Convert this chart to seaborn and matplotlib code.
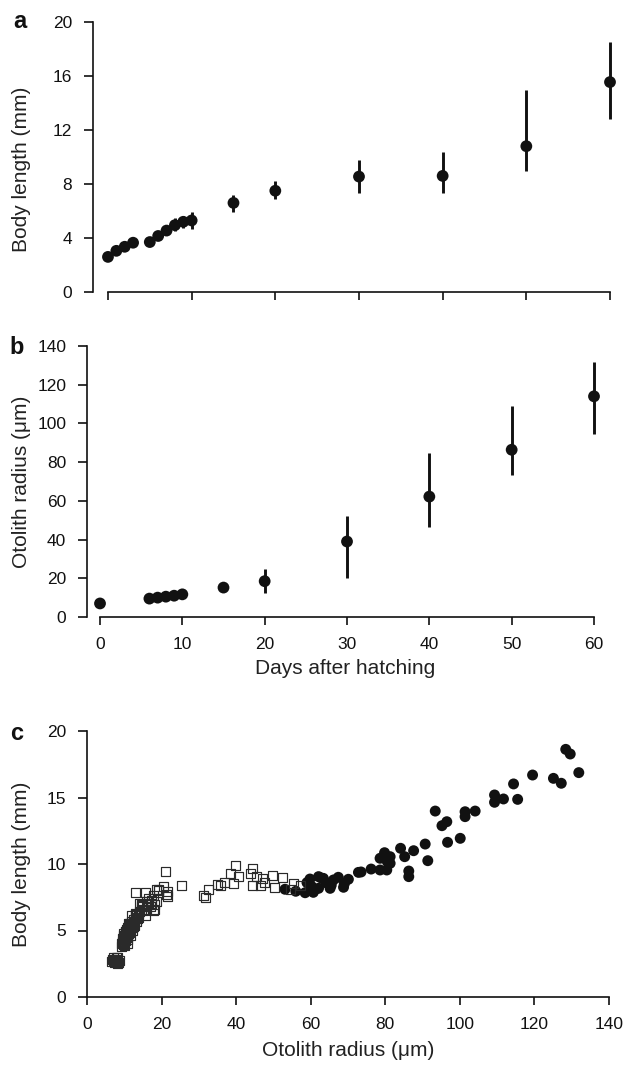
import matplotlib
matplotlib.use("Agg")
import matplotlib.pyplot as plt
import seaborn as sns
import numpy as np
import pandas as pd

# ---------------- data ----------------
# panel a: body length vs days after hatching
days_a = [0, 1, 2, 3, 5, 6, 7, 8, 9, 10, 15, 20, 30, 40, 50, 60]
body_a = [2.6, 3.05, 3.35, 3.65, 3.7, 4.15, 4.55, 4.95, 5.2, 5.3, 6.6, 7.5, 8.55, 8.6, 10.8, 15.55]
body_a_hi = [2.6, 3.05, 3.35, 3.65, 3.7, 4.15, 4.6, 5.45, 5.65, 5.95, 7.2, 8.25, 9.8, 10.4, 15.0, 18.5]
body_a_lo = [2.6, 3.05, 3.35, 3.65, 3.7, 4.15, 4.5, 4.5, 4.75, 4.7, 5.95, 6.9, 7.3, 7.3, 9.0, 12.8]

# panel b: otolith radius vs days after hatching
days_b = [0, 6, 7, 8, 9, 10, 15, 20, 30, 40, 50, 60]
oto_b = [7.0, 9.5, 10.0, 10.5, 11.0, 11.7, 15.2, 18.5, 39.0, 62.2, 86.4, 114.0]
oto_b_hi = [7.0, 9.5, 10.0, 10.5, 11.0, 11.7, 15.2, 24.7, 52.4, 84.9, 108.9, 131.5]
oto_b_lo = [7.0, 9.5, 10.0, 10.5, 11.0, 11.7, 15.2, 12.6, 20.4, 46.3, 73.1, 94.7]

# panel c: body length vs otolith radius (open squares / filled circles)
sq_oto = [6.6, 7.0, 7.3, 7.6, 8.0, 8.3, 8.6, 7.1, 8.1, 7.8, 6.9, 8.4,
          9.3, 9.6, 9.4, 9.9, 10.0, 10.2, 10.3, 10.5, 10.7, 10.8, 11.0, 11.1, 11.3, 11.5,
          11.6, 11.9, 12.0, 12.2, 12.4, 12.6, 12.8, 13.1, 13.4, 13.8, 10.1, 10.9, 11.7, 9.8,
          12.0, 13.0, 9.5, 9.7, 10.0, 10.4, 10.6, 10.9, 11.2, 11.4, 11.8, 12.1, 12.3, 12.7,
          9.2, 10.2, 10.8, 11.3, 12.5, 13.2, 9.9, 11.0, 12.9, 13.6,
          13.8, 14.2, 14.7, 14.2, 14.7, 15.6, 15.9, 16.0, 16.4, 16.9, 17.3, 17.4, 17.8, 18.2,
          18.2, 18.7, 15.2, 16.6, 17.9, 14.5, 15.0, 16.2,
          12.9, 15.7, 18.7, 19.3, 19.1, 20.5, 21.1, 21.4, 21.6, 21.6, 25.4,
          31.2, 31.8, 32.6, 35.1, 35.9, 36.9, 38.6, 39.9, 39.3, 40.6, 43.9, 44.4, 45.5, 44.4,
          46.4, 47.0, 47.5, 49.8, 50.4, 52.5, 54.6, 55.5, 57.2]
sq_body = [2.7, 2.95, 2.6, 2.85, 2.7, 2.95, 2.75, 2.75, 2.55, 3.0, 2.8, 2.6,
           3.8, 4.1, 4.4, 3.95, 4.6, 4.25, 4.9, 4.5, 5.05, 4.3, 4.75, 5.3, 4.95, 5.5,
           5.15, 5.35, 5.7, 5.0, 5.6, 5.85, 5.4, 5.95, 5.7, 6.0, 3.85, 4.0, 4.6, 4.8,
           6.1, 6.3, 4.2, 4.5, 4.35, 4.65, 4.8, 5.2, 5.05, 4.85, 5.45, 5.25, 5.55, 5.65,
           4.0, 4.95, 4.55, 5.4, 5.3, 6.15, 4.65, 5.55, 6.2, 5.9,
           6.29, 6.45, 6.79, 7.04, 6.92, 6.1, 6.6, 7.17, 7.04, 6.79, 7.29, 7.0, 6.5, 6.6,
           6.92, 7.17, 6.5, 7.4, 7.6, 6.6, 6.85, 6.95,
           7.87, 7.87, 8.05, 8.12, 8.04, 8.3, 9.47, 7.67, 7.92, 7.54, 8.37,
           7.62, 7.49, 8.1, 8.47, 8.42, 8.62, 9.3, 9.87, 8.5, 9.05, 9.3, 9.65, 9.05, 8.35,
           8.42, 8.92, 8.62, 9.17, 8.22, 8.97, 8.05, 8.55, 8.35]

ci_oto = [53.1, 56.0, 58.5, 59.0, 59.8, 60.3, 60.7, 61.2, 62.1, 62.1, 62.8, 63.4, 64.0,
          65.2, 65.5, 66.1, 67.4, 68.8, 69.0, 70.1, 72.8, 73.5, 76.2, 78.6, 78.6, 79.8,
          80.4, 81.3, 81.3, 80.5, 84.1, 85.2, 86.3, 86.3, 87.6, 90.7, 91.4, 93.4, 95.2,
          96.5, 96.7, 100.1, 101.4, 101.4, 104.1, 109.3, 109.3, 111.7, 114.4, 115.5,
          119.5, 125.1, 127.2, 128.4, 129.6, 131.9]
ci_body = [8.1, 7.95, 7.84, 8.6, 8.87, 8.3, 7.87, 8.1, 9.05, 8.17, 8.95, 8.92, 8.6,
           8.17, 8.4, 8.8, 9.0, 8.25, 8.5, 8.85, 9.37, 9.4, 9.62, 9.55, 10.43, 10.85,
           9.55, 10.55, 10.05, 10.2, 11.18, 10.55, 9.47, 9.05, 11.0, 11.5, 10.25, 13.98, 12.88,
           13.18, 11.63, 11.93, 13.93, 13.56, 13.98, 15.19, 14.64, 14.89, 16.02, 14.86,
           16.69, 16.44, 16.07, 18.62, 18.27, 16.87]

# ---------------- style ----------------
sns.set_theme(style="ticks")
plt.rcParams['font.family'] = ['Liberation Sans', 'DejaVu Sans']
plt.rcParams.update({
    "axes.linewidth": 1.2,
    "xtick.major.width": 1.2, "ytick.major.width": 1.2,
    "xtick.major.size": 6.0, "ytick.major.size": 6.5,
    "xtick.major.pad": 8.5, "ytick.major.pad": 8.5,
    "xtick.labelsize": 12.5, "ytick.labelsize": 12.5,
    "axes.labelsize": 15,
    "axes.edgecolor": "#111111",
    "xtick.color": "#111111", "ytick.color": "#111111",
    "text.color": "#222222", "axes.labelcolor": "#222222",
})

W, H = 626, 1068
fig = plt.figure(figsize=(W / 100, H / 100), dpi=100)

def frac(left, right, top, bottom):
    return [left / W, 1 - bottom / H, (right - left) / W, (bottom - top) / H]

ink = "#111111"

# ---------------- panel a ----------------
ax_a = fig.add_axes(frac(93, 610, 22, 292))
ax_a.vlines(days_a, body_a_lo, body_a_hi, color=ink, lw=2.1, zorder=2, clip_on=False)
sns.scatterplot(x=days_a, y=body_a, ax=ax_a, color=ink, s=72, edgecolor="none",
                zorder=3, clip_on=False, legend=False)
ax_a.set_xlim(-1.79, 60)
ax_a.set_ylim(0, 20)
ax_a.set_xticks(range(0, 61, 10))
ax_a.set_xticklabels([])
ax_a.set_yticks(range(0, 21, 4))
sns.despine(ax=ax_a)
ax_a.spines['left'].set_bounds(0, 20)
ax_a.spines['bottom'].set_bounds(0, 60)
ax_a.set_ylabel("Body length (mm)")
ax_a.yaxis.label.set_va("center")
ax_a.yaxis.set_label_coords((22 - 93) / 517, (292 - 169) / 270)

# ---------------- panel b ----------------
ax_b = fig.add_axes(frac(87, 594, 346, 617))
ax_b.vlines(days_b, oto_b_lo, oto_b_hi, color=ink, lw=2.1, zorder=2, clip_on=False)
sns.scatterplot(x=days_b, y=oto_b, ax=ax_b, color=ink, s=72, edgecolor="none",
                zorder=3, clip_on=False, legend=False)
ax_b.set_xlim(-1.58, 60)
ax_b.set_ylim(0, 140)
ax_b.set_xticks(range(0, 61, 10))
ax_b.set_yticks(range(0, 141, 20))
sns.despine(ax=ax_b)
ax_b.spines['left'].set_bounds(0, 140)
ax_b.spines['bottom'].set_bounds(0, 60)
ax_b.set_ylabel("Otolith radius (μm)")
ax_b.yaxis.label.set_va("center")
ax_b.yaxis.set_label_coords((22 - 87) / 507, 0.5)
ax_b.set_xlabel("Days after hatching")
ax_b.xaxis.label.set_va("center")
ax_b.xaxis.set_label_coords((345 - 87) / 507, -(668 - 617) / 271)

# ---------------- panel c ----------------
ax_c = fig.add_axes(frac(87, 609, 731, 997))
sns.scatterplot(x=ci_oto, y=ci_body, ax=ax_c, color=ink, s=62, edgecolor="none",
                zorder=2, legend=False)
sns.scatterplot(x=sq_oto, y=sq_body, ax=ax_c, marker="s", s=42, facecolor="none",
                edgecolor="#2a2a2a", linewidth=0.85, zorder=3, legend=False)
ax_c.set_xlim(0, 140)
ax_c.set_ylim(0, 20)
ax_c.set_xticks(range(0, 141, 20))
ax_c.set_yticks(range(0, 21, 5))
sns.despine(ax=ax_c)
ax_c.set_ylabel("Body length (mm)")
ax_c.yaxis.label.set_va("center")
ax_c.yaxis.set_label_coords((22 - 87) / 522, 0.5)
ax_c.set_xlabel("Otolith radius (μm)")
ax_c.xaxis.label.set_va("center")
ax_c.xaxis.set_label_coords((348 - 87) / 522, -(1050 - 997) / 266)

# panel letters
for letter, (px, py) in {"a": (20, 22), "b": (17, 348), "c": (17, 733)}.items():
    fig.text(px / W, 1 - py / H, letter, fontsize=17, fontweight="bold",
             ha="center", va="center", color=ink)

fig.savefig("out.png", dpi=100)
